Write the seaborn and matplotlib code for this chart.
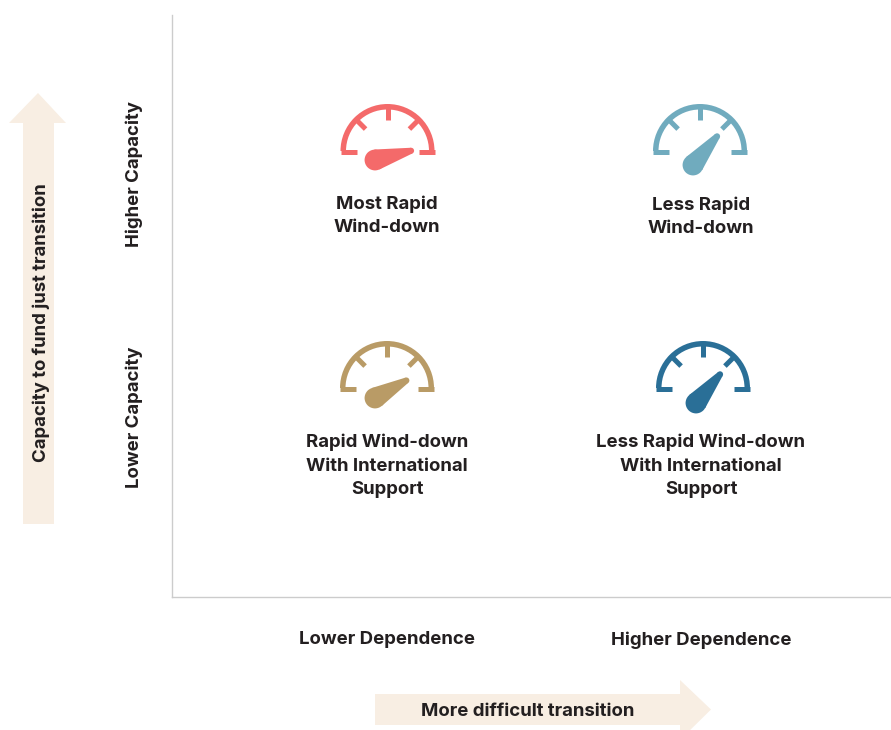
import numpy as np
import pandas as pd
import seaborn as sns
import matplotlib.pyplot as plt
from matplotlib.patches import Wedge, Polygon

# one row per gauge
labels = ["Most Rapid\nWind-down", "Less Rapid\nWind-down",
          "Rapid Wind-down\nWith International\nSupport", "Less Rapid Wind-down\nWith International\nSupport"]
gauge_x = [387.5, 700, 387, 703]
gauge_y = [151, 151, 388, 388]
hub_x = [375, 693, 375, 696]
hub_y = [160, 165, 398, 403]
tip_x = [414, 719, 409, 722]
tip_y = [150, 134, 379, 372]
label_x = [387, 701, 387, 701]
label_y = [216, 216.5, 466, 466]
colors = ["#f46a6a", "#70abbe", "#b99b66", "#2a6f97"]

x_labels = ["Lower Dependence", "Higher Dependence"]
y_labels = ["Higher Capacity", "Lower Capacity"]
x_label = "More difficult transition"
y_label = "Capacity to fund just transition"

ink = "#231f20"
cream = "#f8eee3"

sns.set_theme(style="white")
plt.rcParams['font.family'] = ['Inter', 'DejaVu Sans']

fig = plt.figure(figsize=(8.91, 7.3), dpi=100)
# axis units are image pixels so that the gauges stay round
ax = fig.add_axes([172 / 891, (730 - 597) / 730, 719 / 891, 582 / 730])
ax.set_xlim(172, 891)
ax.set_ylim(597, 15)

df = pd.DataFrame({"x": hub_x, "y": hub_y, "label": labels})
sns.scatterplot(data=df, x="x", y="y", hue="label", palette=colors, s=225,
                linewidth=0, legend=False, ax=ax, zorder=3)

sns.despine(ax=ax)
for side in ["left", "bottom"]:
    ax.spines[side].set_color("#cccccc")
    ax.spines[side].set_linewidth(1.0)
ax.set_xticks([])
ax.set_yticks([])
ax.set_xlabel("")
ax.set_ylabel("")


def draw_gauge(cx, cy, hx, hy, tx, ty, color):
    ax.add_patch(Wedge((cx, cy), 47, 180, 360, width=5.5, color=color, lw=0))
    px = 0.72
    for sign in [-1, 1]:
        ax.plot([cx + sign * 47, cx + sign * 31], [cy + 0.5, cy + 0.5], color=color,
                lw=5 * px, solid_capstyle="butt")
    for a in [225, 270, 315]:
        r = np.radians(a)
        ax.plot([cx + 44 * np.cos(r), cx + 31 * np.cos(r)], [cy + 44 * np.sin(r), cy + 31 * np.sin(r)],
                color=color, lw=5 * px, solid_capstyle="butt")
    # needle: tapered from the hub circle to a small rounded tip
    d = np.array([tx - hx, ty - hy], dtype=float)
    length = np.hypot(*d)
    d = d / length
    n = np.array([-d[1], d[0]])
    hub_r, tip_r = 10.5, 3
    s = (hub_r - tip_r) / length
    c = np.sqrt(1 - s ** 2)
    hub = np.array([hx, hy])
    tip = np.array([tx, ty]) - d * tip_r
    pts = [hub + hub_r * (s * d + c * n), tip + tip_r * (s * d + c * n),
           tip + tip_r * (s * d - c * n), hub + hub_r * (s * d - c * n)]
    ax.add_patch(Polygon(pts, closed=True, color=color, lw=0, zorder=3))
    ax.add_patch(plt.Circle(tip, tip_r, color=color, lw=0, zorder=3))


for i in range(len(labels)):
    draw_gauge(gauge_x[i], gauge_y[i], hub_x[i], hub_y[i], tip_x[i], tip_y[i], colors[i])
    ax.text(label_x[i], label_y[i], labels[i], ha="center", va="center", fontsize=13.4,
            fontweight="bold", color=ink, linespacing=1.5)

# arrows run outside the axes
ax.add_patch(Polygon([(375, 694), (680, 694), (680, 680), (711, 709.5), (680, 740), (680, 725), (375, 725)],
                     closed=True, color=cream, lw=0, clip_on=False))
ax.add_patch(Polygon([(23, 524), (23, 123), (9, 123), (38, 93), (66, 123), (54, 123), (54, 524)],
                     closed=True, color=cream, lw=0, clip_on=False))

style = dict(ha="center", va="center", fontsize=13.4, fontweight="bold", color=ink, clip_on=False)
ax.text(387, 640, x_labels[0], **style)
ax.text(701, 640, x_labels[1], **style)
ax.text(528, 712, x_label, **style)
ax.text(134, 174, y_labels[0], rotation=90, **style)
ax.text(134, 417, y_labels[1], rotation=90, **style)
ax.text(41, 323, y_label, rotation=90, **style)

plt.savefig("out.png", dpi=100, facecolor="white")
